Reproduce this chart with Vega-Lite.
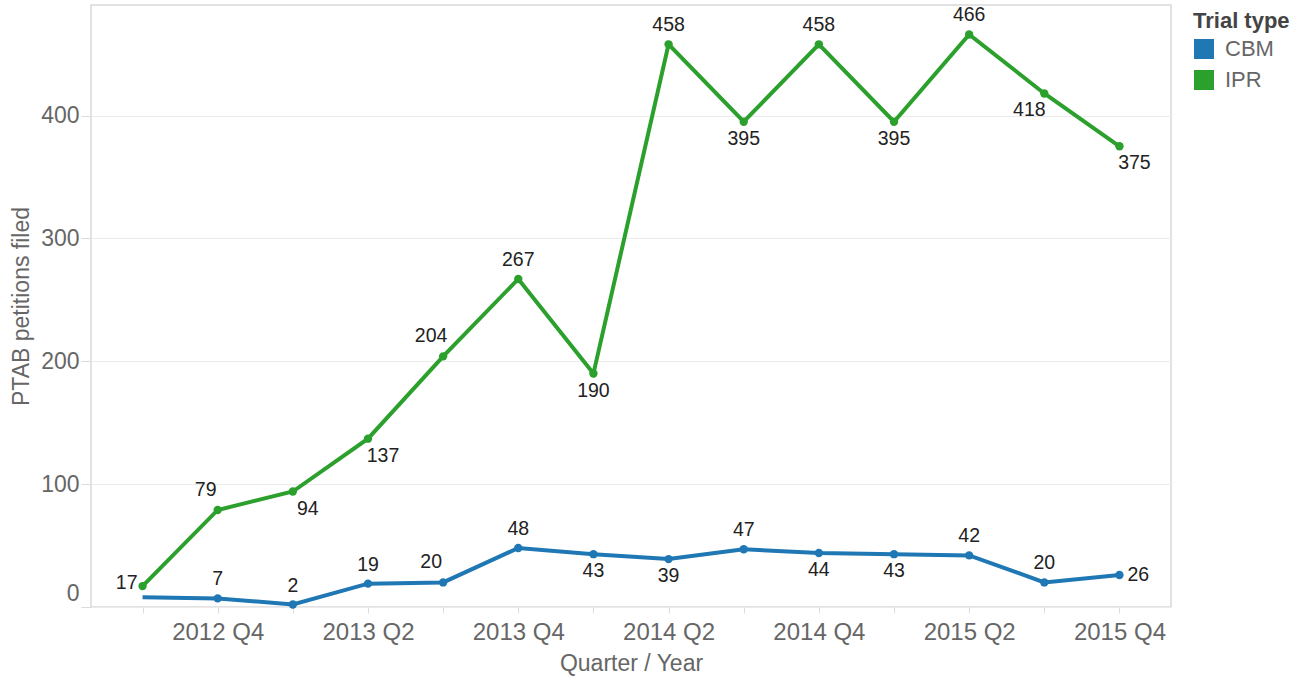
{
  "$schema": "https://vega.github.io/schema/vega-lite/v6.json",
  "width": 1080,
  "height": 602,
  "autosize": {"type": "none"},
  "padding": {"left": 91, "top": 5, "right": 135, "bottom": 70},
  "background": "white",
  "config": {
    "font": "Liberation Sans",
    "view": {"stroke": "#d9d9d9", "strokeWidth": 1.5},
    "axis": {
      "labelFont": "Liberation Sans",
      "titleFont": "Liberation Sans",
      "labelColor": "#666666",
      "titleColor": "#666666",
      "titleFontWeight": "normal",
      "gridColor": "#ebebeb",
      "gridWidth": 1.2,
      "tickColor": "#dcdcdc",
      "domain": false
    }
  },
  "data": {
    "values": [
      {"q": "2012 Q3", "type": "CBM", "n": 8},
      {"q": "2012 Q4", "type": "CBM", "n": 7},
      {"q": "2013 Q1", "type": "CBM", "n": 2},
      {"q": "2013 Q2", "type": "CBM", "n": 19},
      {"q": "2013 Q3", "type": "CBM", "n": 20},
      {"q": "2013 Q4", "type": "CBM", "n": 48},
      {"q": "2014 Q1", "type": "CBM", "n": 43},
      {"q": "2014 Q2", "type": "CBM", "n": 39},
      {"q": "2014 Q3", "type": "CBM", "n": 47},
      {"q": "2014 Q4", "type": "CBM", "n": 44},
      {"q": "2015 Q1", "type": "CBM", "n": 43},
      {"q": "2015 Q2", "type": "CBM", "n": 42},
      {"q": "2015 Q3", "type": "CBM", "n": 20},
      {"q": "2015 Q4", "type": "CBM", "n": 26},
      {"q": "2012 Q3", "type": "IPR", "n": 17},
      {"q": "2012 Q4", "type": "IPR", "n": 79},
      {"q": "2013 Q1", "type": "IPR", "n": 94},
      {"q": "2013 Q2", "type": "IPR", "n": 137},
      {"q": "2013 Q3", "type": "IPR", "n": 204},
      {"q": "2013 Q4", "type": "IPR", "n": 267},
      {"q": "2014 Q1", "type": "IPR", "n": 190},
      {"q": "2014 Q2", "type": "IPR", "n": 458},
      {"q": "2014 Q3", "type": "IPR", "n": 395},
      {"q": "2014 Q4", "type": "IPR", "n": 458},
      {"q": "2015 Q1", "type": "IPR", "n": 395},
      {"q": "2015 Q2", "type": "IPR", "n": 466},
      {"q": "2015 Q3", "type": "IPR", "n": 418},
      {"q": "2015 Q4", "type": "IPR", "n": 375}
    ]
  },
  "encoding": {
    "x": {
      "field": "q",
      "type": "ordinal",
      "scale": {"type": "point", "padding": 0.686},
      "axis": {
        "title": "Quarter / Year",
        "labelAngle": 0,
        "labelFontSize": 24,
        "titleFontSize": 23,
        "labelOverlap": false,
        "tickSize": 6,
        "labelPadding": 7,
        "titlePadding": 8,
        "labelExpr": "indexof(['2012 Q4','2013 Q2','2013 Q4','2014 Q2','2014 Q4','2015 Q2','2015 Q4'], datum.value) >= 0 ? datum.value : ''",
        "gridOpacity": {
          "condition": {"test": "indexof(['2012 Q4','2013 Q2','2013 Q4','2014 Q2','2014 Q4','2015 Q2','2015 Q4'], datum.value) >= 0", "value": 1},
          "value": 0
        }
      }
    },
    "y": {
      "field": "n",
      "type": "quantitative",
      "scale": {"domain": [0, 490], "nice": false},
      "axis": {
        "title": "PTAB petitions filed",
        "values": [0, 100, 200, 300, 400],
        "labelFontSize": 23,
        "titleFontSize": 23,
        "tickSize": 10,
        "labelPadding": 2,
        "titlePadding": 7,
        "labelFlush": true,
        "labelFlushOffset": -2
      }
    },
    "color": {
      "field": "type",
      "type": "nominal",
      "scale": {"domain": ["CBM", "IPR"], "range": ["#1f77b4", "#2ca02c"]},
      "legend": {
        "title": "Trial type",
        "orient": "none",
        "legendX": 1102,
        "legendY": 6,
        "padding": 0,
        "titleFontSize": 22,
        "titleFontWeight": "bold",
        "titleColor": "#444444",
        "titlePadding": 5,
        "labelFontSize": 22,
        "labelColor": "#666666",
        "labelOffset": 10,
        "symbolType": "square",
        "symbolSize": 400,
        "symbolStrokeWidth": 0,
        "rowPadding": 9,
        "encode": {
          "symbols": {"update": {"fill": {"scale": "color", "field": "value"}, "fillOpacity": {"value": 1}, "strokeWidth": {"value": 0}}}
        }
      }
    }
  },
  "layer": [
    {"mark": {"type": "line", "strokeWidth": 4}},
    {
      "transform": [{"filter": "!(datum.type == 'CBM' && datum.q == '2012 Q3')"}],
      "mark": {"type": "circle", "size": 70, "opacity": 1}
    },
    {
      "transform": [{"filter": "indexof(['IPR|2013 Q4','IPR|2014 Q2','IPR|2014 Q4','IPR|2015 Q2','CBM|2012 Q4','CBM|2013 Q1','CBM|2013 Q2','CBM|2013 Q4','CBM|2014 Q3','CBM|2015 Q2','CBM|2015 Q3'], datum.type + '|' + datum.q) >= 0"}],
      "mark": {"type": "text", "fontSize": 19.5, "baseline": "middle", "align": "center", "dy": -19},
      "encoding": {"text": {"field": "n"}, "color": {"value": "#222222"}}
    },
    {
      "transform": [{"filter": "indexof(['IPR|2012 Q4','IPR|2013 Q3','CBM|2013 Q3'], datum.type + '|' + datum.q) >= 0"}],
      "mark": {"type": "text", "fontSize": 19.5, "baseline": "middle", "align": "center", "dx": -12, "dy": -20},
      "encoding": {"text": {"field": "n"}, "color": {"value": "#222222"}}
    },
    {
      "transform": [{"filter": "indexof(['IPR|2014 Q1','IPR|2014 Q3','IPR|2015 Q1','CBM|2014 Q1','CBM|2014 Q2','CBM|2014 Q4','CBM|2015 Q1'], datum.type + '|' + datum.q) >= 0"}],
      "mark": {"type": "text", "fontSize": 19.5, "baseline": "middle", "align": "center", "dy": 17},
      "encoding": {"text": {"field": "n"}, "color": {"value": "#222222"}}
    },
    {
      "transform": [{"filter": "indexof(['IPR|2013 Q1','IPR|2013 Q2','IPR|2015 Q4'], datum.type + '|' + datum.q) >= 0"}],
      "mark": {"type": "text", "fontSize": 19.5, "baseline": "middle", "align": "center", "dx": 15, "dy": 17},
      "encoding": {"text": {"field": "n"}, "color": {"value": "#222222"}}
    },
    {
      "transform": [{"filter": "indexof(['IPR|2015 Q3'], datum.type + '|' + datum.q) >= 0"}],
      "mark": {"type": "text", "fontSize": 19.5, "baseline": "middle", "align": "center", "dx": -15, "dy": 17},
      "encoding": {"text": {"field": "n"}, "color": {"value": "#222222"}}
    },
    {
      "transform": [{"filter": "indexof(['IPR|2012 Q3'], datum.type + '|' + datum.q) >= 0"}],
      "mark": {"type": "text", "fontSize": 19.5, "baseline": "middle", "align": "right", "dx": -5, "dy": -3},
      "encoding": {"text": {"field": "n"}, "color": {"value": "#222222"}}
    },
    {
      "transform": [{"filter": "indexof(['CBM|2015 Q4'], datum.type + '|' + datum.q) >= 0"}],
      "mark": {"type": "text", "fontSize": 19.5, "baseline": "middle", "align": "left", "dx": 8, "dy": 0},
      "encoding": {"text": {"field": "n"}, "color": {"value": "#222222"}}
    }
  ]
}
